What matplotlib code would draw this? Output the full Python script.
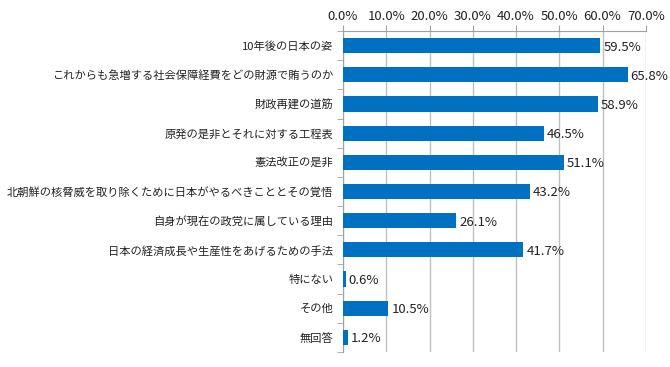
import matplotlib
matplotlib.use("Agg")
import matplotlib.pyplot as plt
import numpy as np

plt.rcParams['font.family'] = ['Noto Sans CJK JP', 'DejaVu Sans']

# data
labels = ["10年後の日本の姿",
          "これからも急増する社会保障経費をどの財源で賄うのか",
          "財政再建の道筋",
          "原発の是非とそれに対する工程表",
          "憲法改正の是非",
          "北朝鮮の核脅威を取り除くために日本がやるべきこととその覚悟",
          "自身が現在の政党に属している理由",
          "日本の経済成長や生産性をあげるための手法",
          "特にない",
          "その他",
          "無回答"]
values = [59.5, 65.8, 58.9, 46.5, 51.1, 43.2, 26.1, 41.7, 0.6, 10.5, 1.2]
xticks = np.arange(0, 71, 10)

fig = plt.figure(figsize=(6.7, 3.67), dpi=100)
ax = fig.add_axes([0.512, 0.041, 0.452, 0.8745])

y = np.arange(len(labels))
ax.barh(y, values, height=0.52, color='#0070C0', zorder=3)
for yi, v in zip(y, values):
    ax.text(v + 0.7, yi + 0.05, f"{v:.1f}%", va='center', ha='left', fontsize=9.5, color='#222222', zorder=4)

ax.set_ylim(len(labels) - 0.5, -0.5)
ax.set_xlim(0, 70)
ax.set_xticks(xticks)
ax.set_xticklabels([f"{t:.1f}%" for t in xticks], fontsize=9.5, color='#222222')
ax.xaxis.tick_top()
ax.tick_params(axis='x', length=4, color='#A0A0A0', pad=2)
ax.grid(axis='x', color='#BFBFBF', linewidth=1, zorder=0)

ax.set_yticks(y)
ax.set_yticklabels(labels, fontsize=8.1, color='#222222')
ax.tick_params(axis='y', length=0, pad=7)
ax.set_yticks(np.arange(-0.5, len(labels), 1), minor=True)
ax.tick_params(axis='y', which='minor', length=4, color='#A0A0A0')

for s in ['right', 'bottom']:
    ax.spines[s].set_visible(False)
for s in ['left', 'top']:
    ax.spines[s].set_color('#A0A0A0')

fig.savefig("out.png", dpi=100)
